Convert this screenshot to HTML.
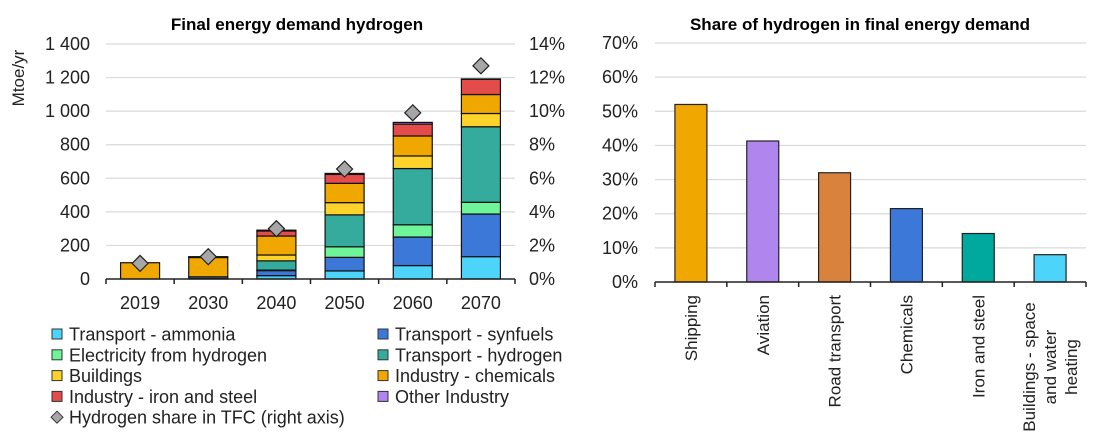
<!DOCTYPE html>
<html><head><meta charset="utf-8">
<style>
html,body{margin:0;padding:0;background:#fff;}
svg{display:block;font-family:"Liberation Sans",Arial,sans-serif;}
</style></head>
<body>
<svg id="c" width="1102" height="443" viewBox="0 0 1102 443" xmlns="http://www.w3.org/2000/svg"></svg>
<script>
// ---- Left chart data ----
const years = ["2019","2030","2040","2050","2060","2070"];
const seriesNames = ["Transport - ammonia","Transport - synfuels","Electricity from hydrogen","Transport - hydrogen","Buildings","Industry - chemicals","Industry - iron and steel","Other Industry"];
const seriesColors = ["#4dd4fb","#3c78d8","#6ef59a","#34ab9c","#fcd22b","#f0a800","#e44c4c","#b085ee"];
const ammonia     = [0, 3, 20, 48, 80, 133];
const synfuels    = [0, 10, 30, 81, 170, 254];
const electricity = [0, 0, 3, 63, 73, 70];
const transportH2 = [0, 0, 55, 190, 335, 450];
const buildings   = [0, 0, 35, 73, 75, 79];
const chemicals   = [97, 115, 113, 115, 119, 113];
const ironSteel   = [0, 3, 30, 53, 71, 91];
const otherInd    = [0, 2, 5, 6, 10, 2];
const h2Share     = [0.93, 1.33, 3.0, 6.55, 9.9, 12.7];
const leftTicks   = ["0","200","400","600","800","1 000","1 200","1 400"];
const rightTicks  = ["0%","2%","4%","6%","8%","10%","12%","14%"];
// ---- Right chart data ----
const sectors = [["Shipping"],["Aviation"],["Road transport"],["Chemicals"],["Iron and steel"],["Buildings - space","and water","heating"]];
const sectorShare = [52, 41.3, 32, 21.5, 14.2, 8];
const sectorColors = ["#f0a800","#b085ee","#d9823d","#3c78d8","#00a99d","#4dd4fb"];
const shareTicks = ["0%","10%","20%","30%","40%","50%","60%","70%"];

const NS="http://www.w3.org/2000/svg";
const svg=document.getElementById('c');
function mk(tag,attrs,parent){const e=document.createElementNS(NS,tag);for(const k in attrs)e.setAttribute(k,attrs[k]);(parent||svg).appendChild(e);return e;}

// Left axes
const L={x0:106,x1:515,y0:279,y1:44,max:1400,rmax:14};
const ly=v=>L.y0-(v/L.max)*(L.y0-L.y1);
const ry=v=>L.y0-(v/L.rmax)*(L.y0-L.y1);
const slot=(L.x1-L.x0)/years.length;
const lx=i=>L.x0+slot*(i+0.5);

let t=mk('text',{x:297,y:30,'text-anchor':'middle','font-size':17,'font-weight':'bold',fill:'#000'});
t.textContent="Final energy demand hydrogen";



leftTicks.forEach((lab,i)=>{
  const v=i*200;
  if(i>0){const g=mk('line',{x1:L.x0,x2:L.x1,y1:ly(v),y2:ly(v),stroke:'#d9d9d9','stroke-width':1.2});
  }
  const tx=mk('text',{x:90,y:ly(v)+6,'text-anchor':'end','font-size':18,fill:'#222'});
  tx.textContent=lab;
  
});
rightTicks.forEach((lab,i)=>{
  const tx=mk('text',{x:529,y:ry(i*2)+6,'text-anchor':'start','font-size':18,fill:'#222'});
  tx.textContent=lab;
  
});
t=mk('text',{x:0,y:0,'text-anchor':'middle','font-size':17,fill:'#222',transform:'translate(24,78) rotate(-90)'});
t.textContent="Mtoe/yr";


const stacks=[ammonia,synfuels,electricity,transportH2,buildings,chemicals,ironSteel,otherInd];
const bw=39;
years.forEach((yr,i)=>{
  let base=0;
  stacks.forEach((s,k)=>{
    const v=s[i]; if(v<=0)return;
    const r=mk('rect',{x:lx(i)-bw/2,y:ly(base+v),width:bw,height:ly(base)-ly(base+v),fill:seriesColors[k],stroke:'#111','stroke-width':1.2});
    
    base+=v;
  });
  const tx=mk('text',{x:lx(i),y:309,'text-anchor':'middle','font-size':18,fill:'#222'});
  tx.textContent=yr;
  
});
let a=mk('line',{x1:L.x0,x2:L.x1,y1:L.y0,y2:L.y0,stroke:'#222','stroke-width':1.5});

for(let i=0;i<=years.length;i++){const tk=mk('line',{x1:L.x0+slot*i,x2:L.x0+slot*i,y1:L.y0,y2:L.y0+5,stroke:'#222','stroke-width':1.5});
}
h2Share.forEach((v,i)=>{
  const cx=lx(i),cy=ry(v),d=8;
  const p=mk('polygon',{points:`${cx},${cy-d} ${cx+d},${cy} ${cx},${cy+d} ${cx-d},${cy}`,fill:'#a6a6a6',stroke:'#222','stroke-width':1.2});
  
});
const legPos=[[57,0],[383,0],[57,1],[383,1],[57,2],[383,2],[57,3],[383,3]];
seriesNames.forEach((n,k)=>{
  const [x,r]=legPos[k],y=334+r*20.8;
  const g=mk('g',{});
  
  mk('rect',{x:x-5,y:y-5,width:10,height:10,fill:seriesColors[k],stroke:'#333','stroke-width':1},g);
  const tx=mk('text',{x:x+12,y:y+6.5,'font-size':18,fill:'#222'},g);tx.textContent=n;
});
{
  const y=334+4*20.8,x=57;
  const g=mk('g',{});
  
  mk('polygon',{points:`${x},${y-6} ${x+6},${y} ${x},${y+6} ${x-6},${y}`,fill:'#a6a6a6',stroke:'#333','stroke-width':1},g);
  const tx=mk('text',{x:x+12,y:y+6.5,'font-size':18,fill:'#222'},g);tx.textContent="Hydrogen share in TFC (right axis)";
}

// Right chart
const R={x0:655,x1:1086,y0:282,y1:43,max:70};
const sy=v=>R.y0-(v/R.max)*(R.y0-R.y1);
const rslot=(R.x1-R.x0)/sectors.length;
const sx=i=>R.x0+rslot*(i+0.5);
t=mk('text',{x:860,y:30,'text-anchor':'middle','font-size':17,'font-weight':'bold',fill:'#000'});
t.textContent="Share of hydrogen in final energy demand";

shareTicks.forEach((lab,i)=>{
  const v=i*10;
  if(i>0){const g=mk('line',{x1:R.x0,x2:R.x1,y1:sy(v),y2:sy(v),stroke:'#d9d9d9','stroke-width':1.2});
  }
  const tx=mk('text',{x:638,y:sy(v)+6,'text-anchor':'end','font-size':18,fill:'#222'});
  tx.textContent=lab;
  
});
sectors.forEach((lines,i)=>{
  const r=mk('rect',{x:sx(i)-16,y:sy(sectorShare[i]),width:32,height:R.y0-sy(sectorShare[i]),fill:sectorColors[i],stroke:'#222','stroke-width':1.2});
  
  const n=lines.length;
  lines.forEach((ln,j)=>{
    const off=(j-(n-1)/2)*21+6;
    const tx=mk('text',{x:0,y:0,'text-anchor':n>1?'middle':'end','font-size':17,fill:'#222',
      transform:n>1?`translate(${sx(i)+off},${295+72}) rotate(-90)`:`translate(${sx(i)+6},295) rotate(-90)`});
    tx.textContent=ln;
    
  });
});
a=mk('line',{x1:R.x0,x2:R.x1,y1:R.y0,y2:R.y0,stroke:'#222','stroke-width':1.5});

for(let i=0;i<=sectors.length;i++){const tk=mk('line',{x1:R.x0+rslot*i,x2:R.x0+rslot*i,y1:R.y0,y2:R.y0+5,stroke:'#222','stroke-width':1.5});
}
</script>
</body></html>
